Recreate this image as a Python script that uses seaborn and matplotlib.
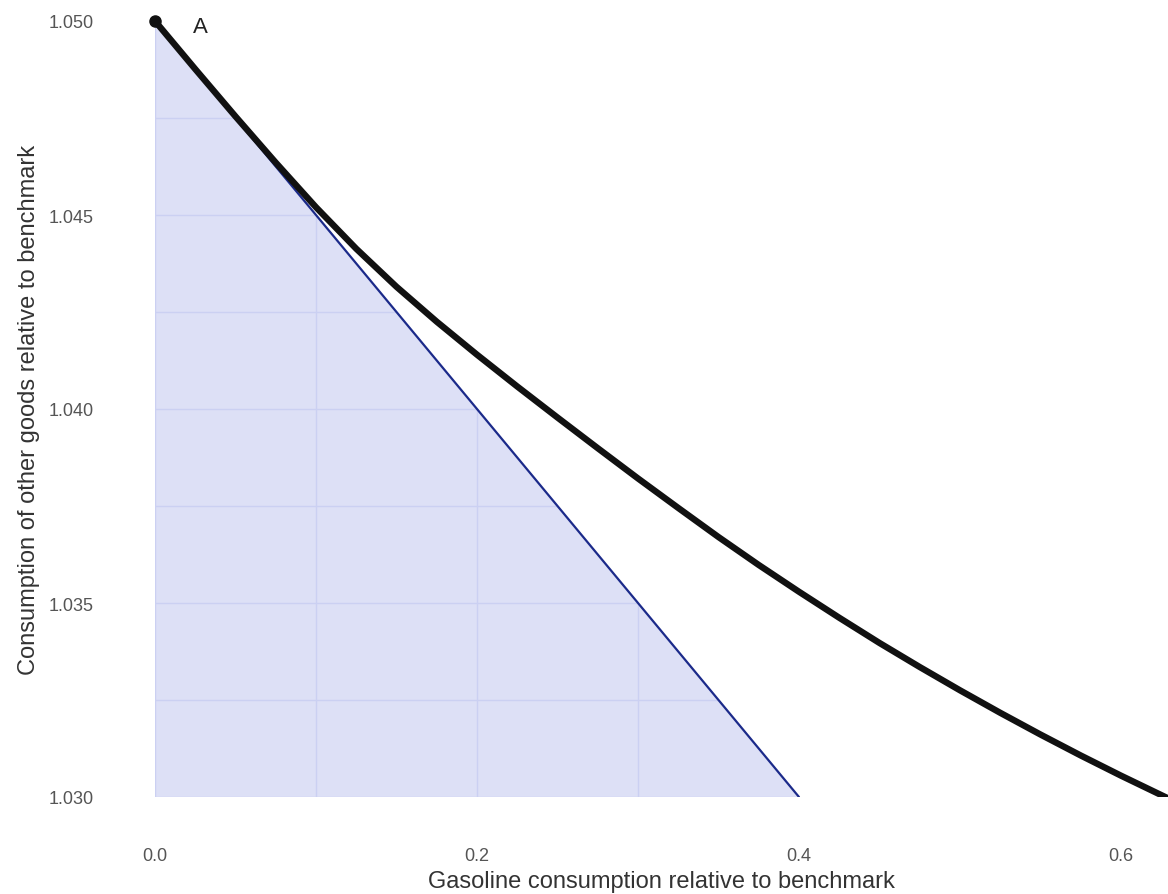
import numpy as np
import pandas as pd
import matplotlib
matplotlib.use("Agg")
import matplotlib.pyplot as plt
from matplotlib.patches import Polygon
import seaborn as sns

# Indifference curve through point A
gas_curve = [0.000, 0.025, 0.050, 0.075, 0.100, 0.125, 0.150, 0.175, 0.200, 0.225,
             0.250, 0.275, 0.300, 0.325, 0.350, 0.375, 0.400, 0.425, 0.450, 0.475,
             0.500, 0.525, 0.550, 0.575, 0.600, 0.630]
other_curve = [1.05000, 1.04876, 1.04754, 1.04635, 1.04520, 1.04413, 1.04315, 1.04225,
               1.04140, 1.04058, 1.03978, 1.03899, 1.03821, 1.03745, 1.03670, 1.03598,
               1.03529, 1.03462, 1.03397, 1.03335, 1.03275, 1.03217, 1.03161, 1.03107,
               1.03055, 1.02995]

# Budget line endpoints
gas_budget = [0.0, 0.4]
other_budget = [1.050, 1.030]

# Point A
point_a = (0.0, 1.050)
point_label = "A"

x_ticks = [0.0, 0.2, 0.4, 0.6]
y_ticks = [1.030, 1.035, 1.040, 1.045, 1.050]
x_label = "Gasoline consumption relative to benchmark"
y_label = "Consumption of other goods relative to benchmark"

sns.set_theme(style="white")
plt.rcParams["font.family"] = ["Liberation Sans", "DejaVu Sans"]

W, H = 1168, 895
fig = plt.figure(figsize=(W / 100, H / 100), dpi=100)
left_px, right_px, top_px, bottom_px = 155, 1168, 22, 798
ax = fig.add_axes([left_px / W, 1 - bottom_px / H, (right_px - left_px) / W, (bottom_px - top_px) / H])
ax.set_xlim(0.0, 0.6292)
ax.set_ylim(1.030, 1.050)

# Affordable set under the budget line
fill = Polygon([(gas_budget[0], other_budget[0]), (gas_budget[1], other_budget[1]),
                (gas_budget[0], other_budget[1])], closed=True,
               facecolor="#dde0f6", edgecolor="none", zorder=1)
ax.add_patch(fill)

ax.set_xticks(x_ticks)
ax.set_yticks(y_ticks)
ax.xaxis.set_minor_locator(matplotlib.ticker.MultipleLocator(0.1))
ax.yaxis.set_minor_locator(matplotlib.ticker.MultipleLocator(0.0025))

# Grid visible only inside the shaded region
for xv in ax.xaxis.get_minorticklocs().tolist() + ax.xaxis.get_majorticklocs().tolist():
    ln = ax.axvline(xv, color="#cbd0f2", lw=1.0, zorder=2)
    ln.set_clip_path(fill)
for yv in ax.yaxis.get_minorticklocs().tolist() + ax.yaxis.get_majorticklocs().tolist():
    ln = ax.axhline(yv, color="#cbd0f2", lw=1.0, zorder=2)
    ln.set_clip_path(fill)

budget_df = pd.DataFrame({"gas": gas_budget, "other": other_budget})
sns.lineplot(data=budget_df, x="gas", y="other", ax=ax, color="#1b2a8a", lw=1.6,
             sort=False, estimator=None, zorder=3)

curve_df = pd.DataFrame({"gas": gas_curve, "other": other_curve})
sns.lineplot(data=curve_df, x="gas", y="other", ax=ax, color="#111111", lw=4.6,
             sort=False, estimator=None, zorder=4, solid_capstyle="round",
             solid_joinstyle="round")

ax.plot([point_a[0]], [point_a[1]], "o", color="#111111", ms=8, zorder=5, clip_on=False)
ax.annotate(point_label, xy=point_a, xytext=(27, -4), textcoords="offset points",
            fontsize=16, color="#222222", va="center", ha="left")

ax.set_xticklabels([f"{v:.1f}" for v in x_ticks])
ax.set_yticklabels([f"{v:.3f}" for v in y_ticks])
ax.tick_params(axis="x", which="both", length=0, pad=36, labelsize=13, labelcolor="#555555")
ax.tick_params(axis="y", which="both", length=0, pad=44, labelsize=13, labelcolor="#555555")
ax.set_xlabel(x_label, fontsize=17, color="#333333", labelpad=4)
ax.set_ylabel(y_label, fontsize=17, color="#333333", labelpad=6)
for s in ax.spines.values():
    s.set_visible(False)

fig.savefig("out.png", dpi=100)
